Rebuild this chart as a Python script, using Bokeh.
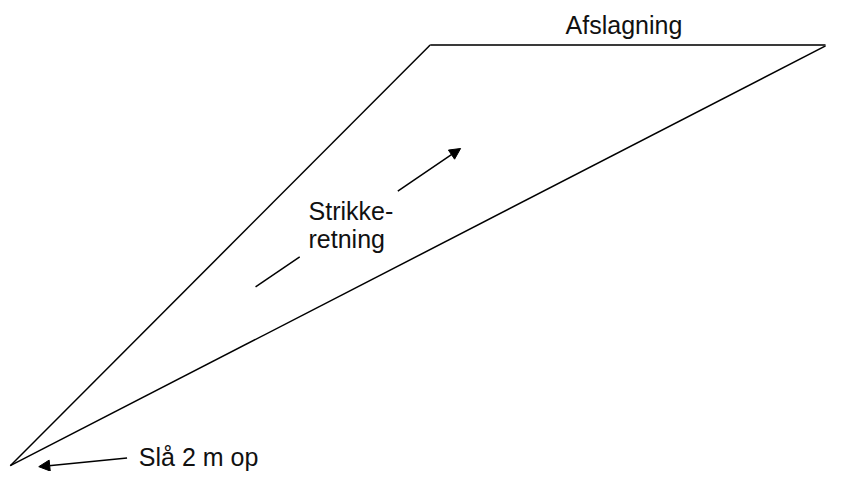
from bokeh.plotting import figure
from bokeh.models import Range1d, Arrow, NormalHead, ColumnDataSource
from bokeh.core.properties import value
from bokeh.embed import file_html
from bokeh.resources import INLINE

# Shape outline (picture coordinates, y downwards)
left_edge_x = [10, 438]
left_edge_y = [481, 46]
top_edge_x = [438, 841]
top_edge_y = [46, 46]
right_edge_x = [841, 10]
right_edge_y = [47, 481]

# direction marks
dash_x = [260, 305]
dash_y = [296, 265]
dir_arrow = dict(x0=405, y0=197, x1=469, y1=153)
cast_arrow = dict(x0=129, y0=473, x1=39, y1=482)

# labels (left edge, vertical centre)
label_text = ["Afslagning", "Strikke-", "retning", "Slå 2 m op"]
label_x = [576, 314, 314, 141]
label_y = [25, 218, 247, 472]

p = figure(width=827, height=471, output_backend="svg", toolbar_location=None,
           x_range=Range1d(0, 843), y_range=Range1d(487, 0),
           min_border=0, background_fill_color="white", border_fill_color="white")
p.axis.visible = False
p.grid.visible = False
p.outline_line_color = None

p.line(left_edge_x, left_edge_y, line_color="black", line_width=1.5)
p.line(right_edge_x, right_edge_y, line_color="black", line_width=1.5)
p.line(top_edge_x, top_edge_y, line_color="#3a3a3a", line_width=2.2)
p.line(dash_x, dash_y, line_color="black", line_width=1.5)

for a in (dir_arrow, cast_arrow):
    p.add_layout(Arrow(x_start=a["x0"], y_start=a["y0"], x_end=a["x1"], y_end=a["y1"],
                       line_color="black", line_width=1.5,
                       end=NormalHead(size=11, fill_color="black", line_color="black", line_width=1)))

src = ColumnDataSource(dict(x=label_x, y=label_y, t=label_text))
p.text(x="x", y="y", text="t", source=src, text_font=value("Liberation Sans"),
       text_font_size="25px", text_color="#111111", text_align="left",
       text_baseline="middle")

open("out.html", "w").write(file_html(p, INLINE))
